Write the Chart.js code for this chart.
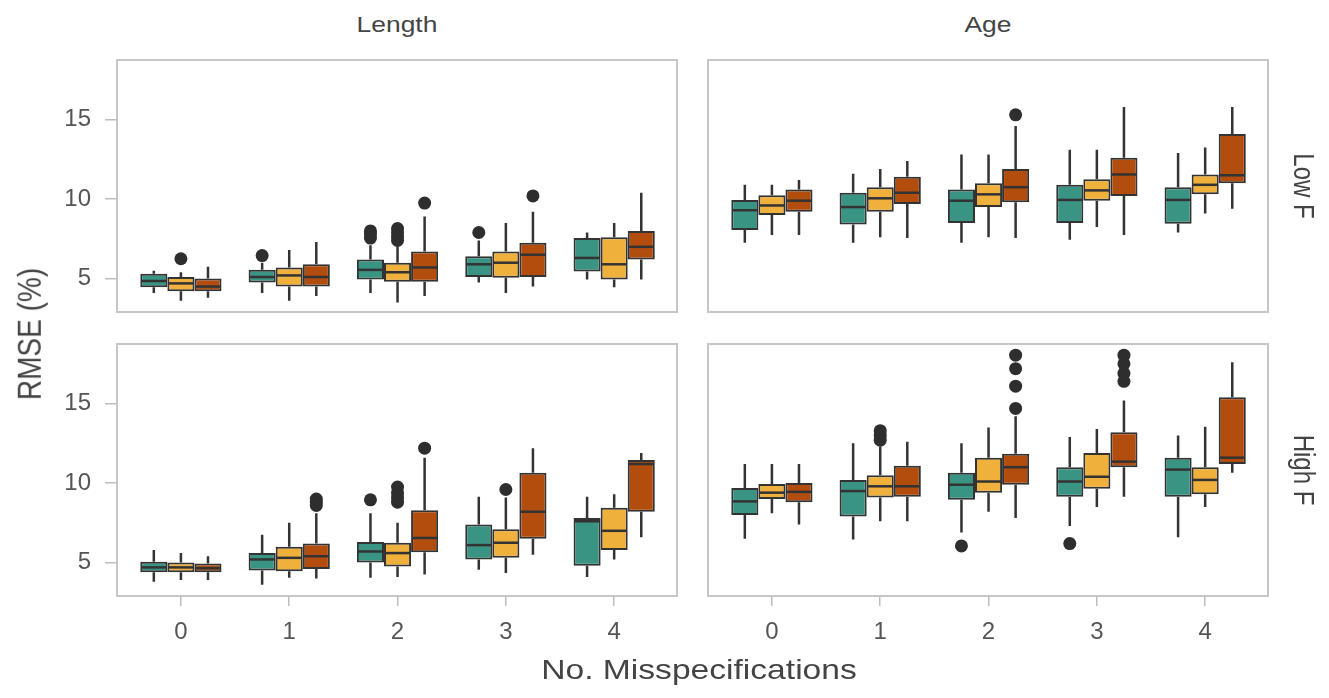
<!DOCTYPE html>
<html>
<head>
<meta charset="utf-8">
<script src="https://cdn.jsdelivr.net/npm/chart.js@4"></script>
<style>
  body { margin: 0; background: #fff; }
  #fig { position: relative; width: 1329px; height: 698px; overflow: hidden;
         font-family: 'Liberation Sans', Arial, sans-serif; color: #444; }
  #fig canvas { position: absolute; }
  .lbl { position: absolute; white-space: nowrap; line-height: 1; }
</style>
</head>
<body>
<div id="fig">
  <canvas id="lenLow" width="690" height="290" style="left:0;top:40px"></canvas>
  <canvas id="ageLow" width="639" height="290" style="left:690px;top:40px"></canvas>
  <canvas id="lenHigh" width="690" height="340" style="left:0;top:324px"></canvas>
  <canvas id="ageHigh" width="639" height="340" style="left:690px;top:324px"></canvas>

  <div class="lbl" style="left:397px;top:25px;font-size:22px;transform:translate(-50%,-50%) scaleX(1.2)">Length</div>
  <div class="lbl" style="left:988px;top:25px;font-size:22px;transform:translate(-50%,-50%) scaleX(1.2)">Age</div>
  <div class="lbl" style="left:1304px;top:186px;font-size:24px;transform:translate(-50%,-50%) scaleX(1.2) rotate(90deg)">Low F</div>
  <div class="lbl" style="left:1304px;top:470px;font-size:24px;transform:translate(-50%,-50%) scaleX(1.2) rotate(90deg)">High F</div>
  <div class="lbl" style="left:30px;top:334px;font-size:28px;transform:translate(-50%,-50%) scaleX(1.2) rotate(-90deg)">RMSE (%)</div>
  <div class="lbl" style="left:699px;top:670px;font-size:28px;transform:translate(-50%,-50%) scaleX(1.2)">No. Misspecifications</div>
</div>
<script>
const categories = ['0', '1', '2', '3', '4'];
const yTicks = [5, 10, 15];
const hueColors = ['#3a9483', '#efb03c', '#b24d0e'];

// each box: [lower whisker, q1, median, q3, upper whisker]
const lengthLowTeal = [[4.1, 4.45, 4.85, 5.3, 5.5], [4.1, 4.75, 5.1, 5.55, 6.0], [4.1, 4.95, 5.55, 6.2, 7.1], [4.75, 5.1, 5.9, 6.4, 7.4], [4.95, 5.45, 6.3, 7.55, 7.9]];
const lengthLowGold = [[3.6, 4.2, 4.7, 5.1, 5.4], [3.6, 4.5, 5.2, 5.7, 6.8], [3.5, 4.8, 5.4, 6.0, 7.0], [4.1, 5.05, 6.0, 6.7, 8.5], [4.45, 4.95, 5.9, 7.6, 8.5]];
const lengthLowRust = [[3.8, 4.2, 4.5, 5.0, 5.75], [3.9, 4.5, 5.1, 5.9, 7.3], [3.9, 4.8, 5.7, 6.7, 8.9], [4.5, 5.1, 6.5, 7.25, 9.2], [4.95, 6.2, 7.0, 8.0, 10.4]];

const ageLowTeal = [[7.25, 8.05, 9.3, 9.95, 10.9], [7.25, 8.4, 9.5, 10.4, 11.6], [7.25, 8.5, 9.9, 10.6, 12.8], [7.45, 8.5, 9.95, 10.9, 13.1], [7.9, 8.45, 9.95, 10.75, 12.9]];
const ageLowGold = [[7.75, 9.0, 9.6, 10.25, 10.9], [7.6, 9.2, 10.05, 10.75, 11.9], [7.6, 9.5, 10.3, 11.0, 12.8], [8.25, 9.9, 10.55, 11.25, 13.1], [9.1, 10.3, 10.9, 11.55, 13.25]];
const ageLowRust = [[7.75, 9.2, 9.9, 10.6, 11.2], [7.55, 9.7, 10.4, 11.4, 12.4], [7.55, 9.8, 10.75, 11.9, 14.6], [7.75, 10.2, 11.55, 12.6, 15.8], [9.4, 11.0, 11.5, 14.1, 15.8]];

const lengthHighTeal = [[3.8, 4.4, 4.7, 5.05, 5.8], [3.6, 4.5, 5.2, 5.6, 6.75], [4.05, 5.0, 5.7, 6.3, 8.1], [4.55, 5.2, 6.1, 7.4, 9.15], [4.1, 4.8, 7.6, 7.8, 9.15]];
const lengthHighGold = [[3.9, 4.4, 4.7, 5.0, 5.6], [4.05, 4.45, 5.3, 6.0, 7.5], [4.1, 4.75, 5.6, 6.25, 7.5], [4.35, 5.3, 6.25, 7.1, 9.1], [5.2, 5.8, 7.0, 8.45, 9.3]];
const lengthHighRust = [[3.9, 4.4, 4.65, 4.95, 5.4], [4.0, 4.6, 5.4, 6.2, 8.1], [4.25, 5.65, 6.55, 8.3, 11.6], [5.5, 6.5, 8.2, 10.65, 12.2], [6.6, 8.2, 11.2, 11.45, 11.9]];

const ageHighTeal = [[6.5, 8.0, 8.85, 9.7, 11.2], [6.45, 7.9, 9.5, 10.2, 12.5], [6.9, 8.95, 9.9, 10.65, 12.5], [7.3, 9.15, 10.1, 11.0, 12.9], [6.6, 9.15, 10.85, 11.6, 13.0]];
const ageHighGold = [[8.1, 9.0, 9.4, 9.95, 11.2], [7.6, 9.1, 9.8, 10.5, 12.3], [8.2, 9.4, 10.1, 11.6, 13.5], [8.5, 9.65, 10.4, 11.9, 13.4], [8.5, 9.3, 10.2, 11.0, 13.55]];
const ageHighRust = [[7.4, 8.8, 9.45, 10.0, 11.2], [7.6, 9.15, 9.8, 11.1, 12.6], [7.8, 9.9, 11.0, 11.85, 14.2], [9.15, 11.0, 11.35, 13.2, 15.2], [10.65, 11.2, 11.6, 15.4, 17.6]];

// outliers: [hue index, category index, value]
const lengthLowOut = [[1, 0, 6.25], [0, 1, 6.45], [0, 2, 7.55], [0, 2, 7.8], [0, 2, 8.0], [1, 2, 7.4], [1, 2, 7.65], [1, 2, 7.9], [1, 2, 8.15], [2, 2, 9.75], [0, 3, 7.9], [2, 3, 10.2]];
const ageLowOut = [[2, 2, 15.3]];
const lengthHighOut = [[2, 1, 8.6], [2, 1, 8.8], [2, 1, 9.0], [0, 2, 8.95], [1, 2, 8.8], [1, 2, 9.1], [1, 2, 9.4], [1, 2, 9.75], [2, 2, 12.2], [1, 3, 9.6]];
const ageHighOut = [[1, 1, 12.7], [1, 1, 13.0], [1, 1, 13.3], [0, 2, 6.05], [2, 2, 14.7], [2, 2, 16.1], [2, 2, 17.2], [2, 2, 18.05], [0, 3, 6.2], [2, 3, 16.4], [2, 3, 16.9], [2, 3, 17.5], [2, 3, 18.05]];

const GROUP = 0.75;          // share of a category taken by its three boxes
const edgeColor = '#333333';
const tickFont = { family: "'Liberation Sans', Arial, sans-serif", size: 24 };

// whiskers go under the boxes, medians on top of them
function drawBoxLines(chart, part) {
  const ctx = chart.ctx;
  const y = chart.scales.y;
  ctx.save();
  ctx.strokeStyle = edgeColor;
  ctx.lineWidth = 2.5;
  chart.data.datasets.forEach((ds, di) => {
    if (!ds.stats) return;
    chart.getDatasetMeta(di).data.forEach((bar, i) => {
      const s = ds.stats[i];
      const { x, width } = bar.getProps(['x', 'width'], true);
      ctx.beginPath();
      if (part === 'whisker') {
        ctx.moveTo(x, y.getPixelForValue(s[0]));
        ctx.lineTo(x, y.getPixelForValue(s[1]));
        ctx.moveTo(x, y.getPixelForValue(s[3]));
        ctx.lineTo(x, y.getPixelForValue(s[4]));
      } else {
        const m = y.getPixelForValue(s[2]);
        ctx.moveTo(x - width / 2 + 1, m);
        ctx.lineTo(x + width / 2 - 1, m);
      }
      ctx.stroke();
    });
  });
  ctx.restore();
}

const boxLines = {
  id: 'boxLines',
  beforeDatasetsDraw(chart) { drawBoxLines(chart, 'whisker'); },
  afterDatasetsDraw(chart) { drawBoxLines(chart, 'median'); }
};

const panelFrame = {
  id: 'panelFrame',
  afterDraw(chart) {
    const { left, top, width, height } = chart.chartArea;
    const ctx = chart.ctx;
    ctx.save();
    ctx.strokeStyle = '#c6c6c6';
    ctx.lineWidth = 2;
    ctx.strokeRect(left, top, width, height);
    ctx.restore();
  }
};

function makePanel(id, series, outliers, showX, showY, padding) {
  const datasets = series.map((stats, h) => ({
    type: 'bar',
    data: stats.map((s, i) => ({ x: i, y: [s[1], s[3]] })),
    stats: stats,
    backgroundColor: hueColors[h],
    borderColor: edgeColor,
    borderWidth: 2,
    borderSkipped: false,
    categoryPercentage: GROUP,
    barPercentage: 1,
    order: 1
  }));
  datasets.push({
    type: 'scatter',
    data: outliers.map(([h, c, v]) => ({ x: c + (h - 1) * GROUP / 3, y: v })),
    pointRadius: 6.5,
    pointBackgroundColor: '#2e2e2e',
    pointBorderWidth: 0,
    order: 0
  });

  new Chart(document.getElementById(id), {
    type: 'bar',
    data: { datasets },
    plugins: [boxLines, panelFrame],
    options: {
      responsive: false,
      animation: false,
      layout: { padding },
      plugins: { legend: { display: false }, tooltip: { enabled: false } },
      scales: {
        x: {
          type: 'linear',
          min: -0.59,
          max: 4.58,
          offset: false,
          display: showX,
          afterBuildTicks: s => { s.ticks = categories.map((_, i) => ({ value: i })); },
          afterFit: s => {
            if (!showX) return;
            s.height = 60;
            s.paddingLeft = 0;
            s.paddingRight = 0;
          },
          ticks: { callback: v => categories[v], font: tickFont, color: '#555', padding: 12, maxRotation: 0 },
          grid: { offset: false, drawOnChartArea: false, tickLength: 10, color: '#bdbdbd', lineWidth: 1.5 },
          border: { display: false }
        },
        y: {
          min: 2.9,
          max: 18.75,
          display: showY,
          afterBuildTicks: s => { s.ticks = yTicks.map(v => ({ value: v })); },
          afterFit: s => {
            if (!showY) return;
            s.width = 117;
            s.paddingTop = 0;
            s.paddingBottom = 0;
          },
          ticks: { font: tickFont, color: '#555', padding: 14 },
          grid: { drawOnChartArea: false, tickLength: 12, color: '#bdbdbd', lineWidth: 1.5 },
          border: { display: false }
        }
      }
    }
  });
}

makePanel('lenLow', [lengthLowTeal, lengthLowGold, lengthLowRust], lengthLowOut, false, true,
  { top: 20, right: 13, bottom: 18, left: 0 });
makePanel('ageLow', [ageLowTeal, ageLowGold, ageLowRust], ageLowOut, false, false,
  { top: 20, right: 61, bottom: 18, left: 18 });
makePanel('lenHigh', [lengthHighTeal, lengthHighGold, lengthHighRust], lengthHighOut, true, true,
  { top: 20, right: 13, bottom: 8, left: 0 });
makePanel('ageHigh', [ageHighTeal, ageHighGold, ageHighRust], ageHighOut, true, false,
  { top: 20, right: 61, bottom: 8, left: 18 });
</script>
</body>
</html>
